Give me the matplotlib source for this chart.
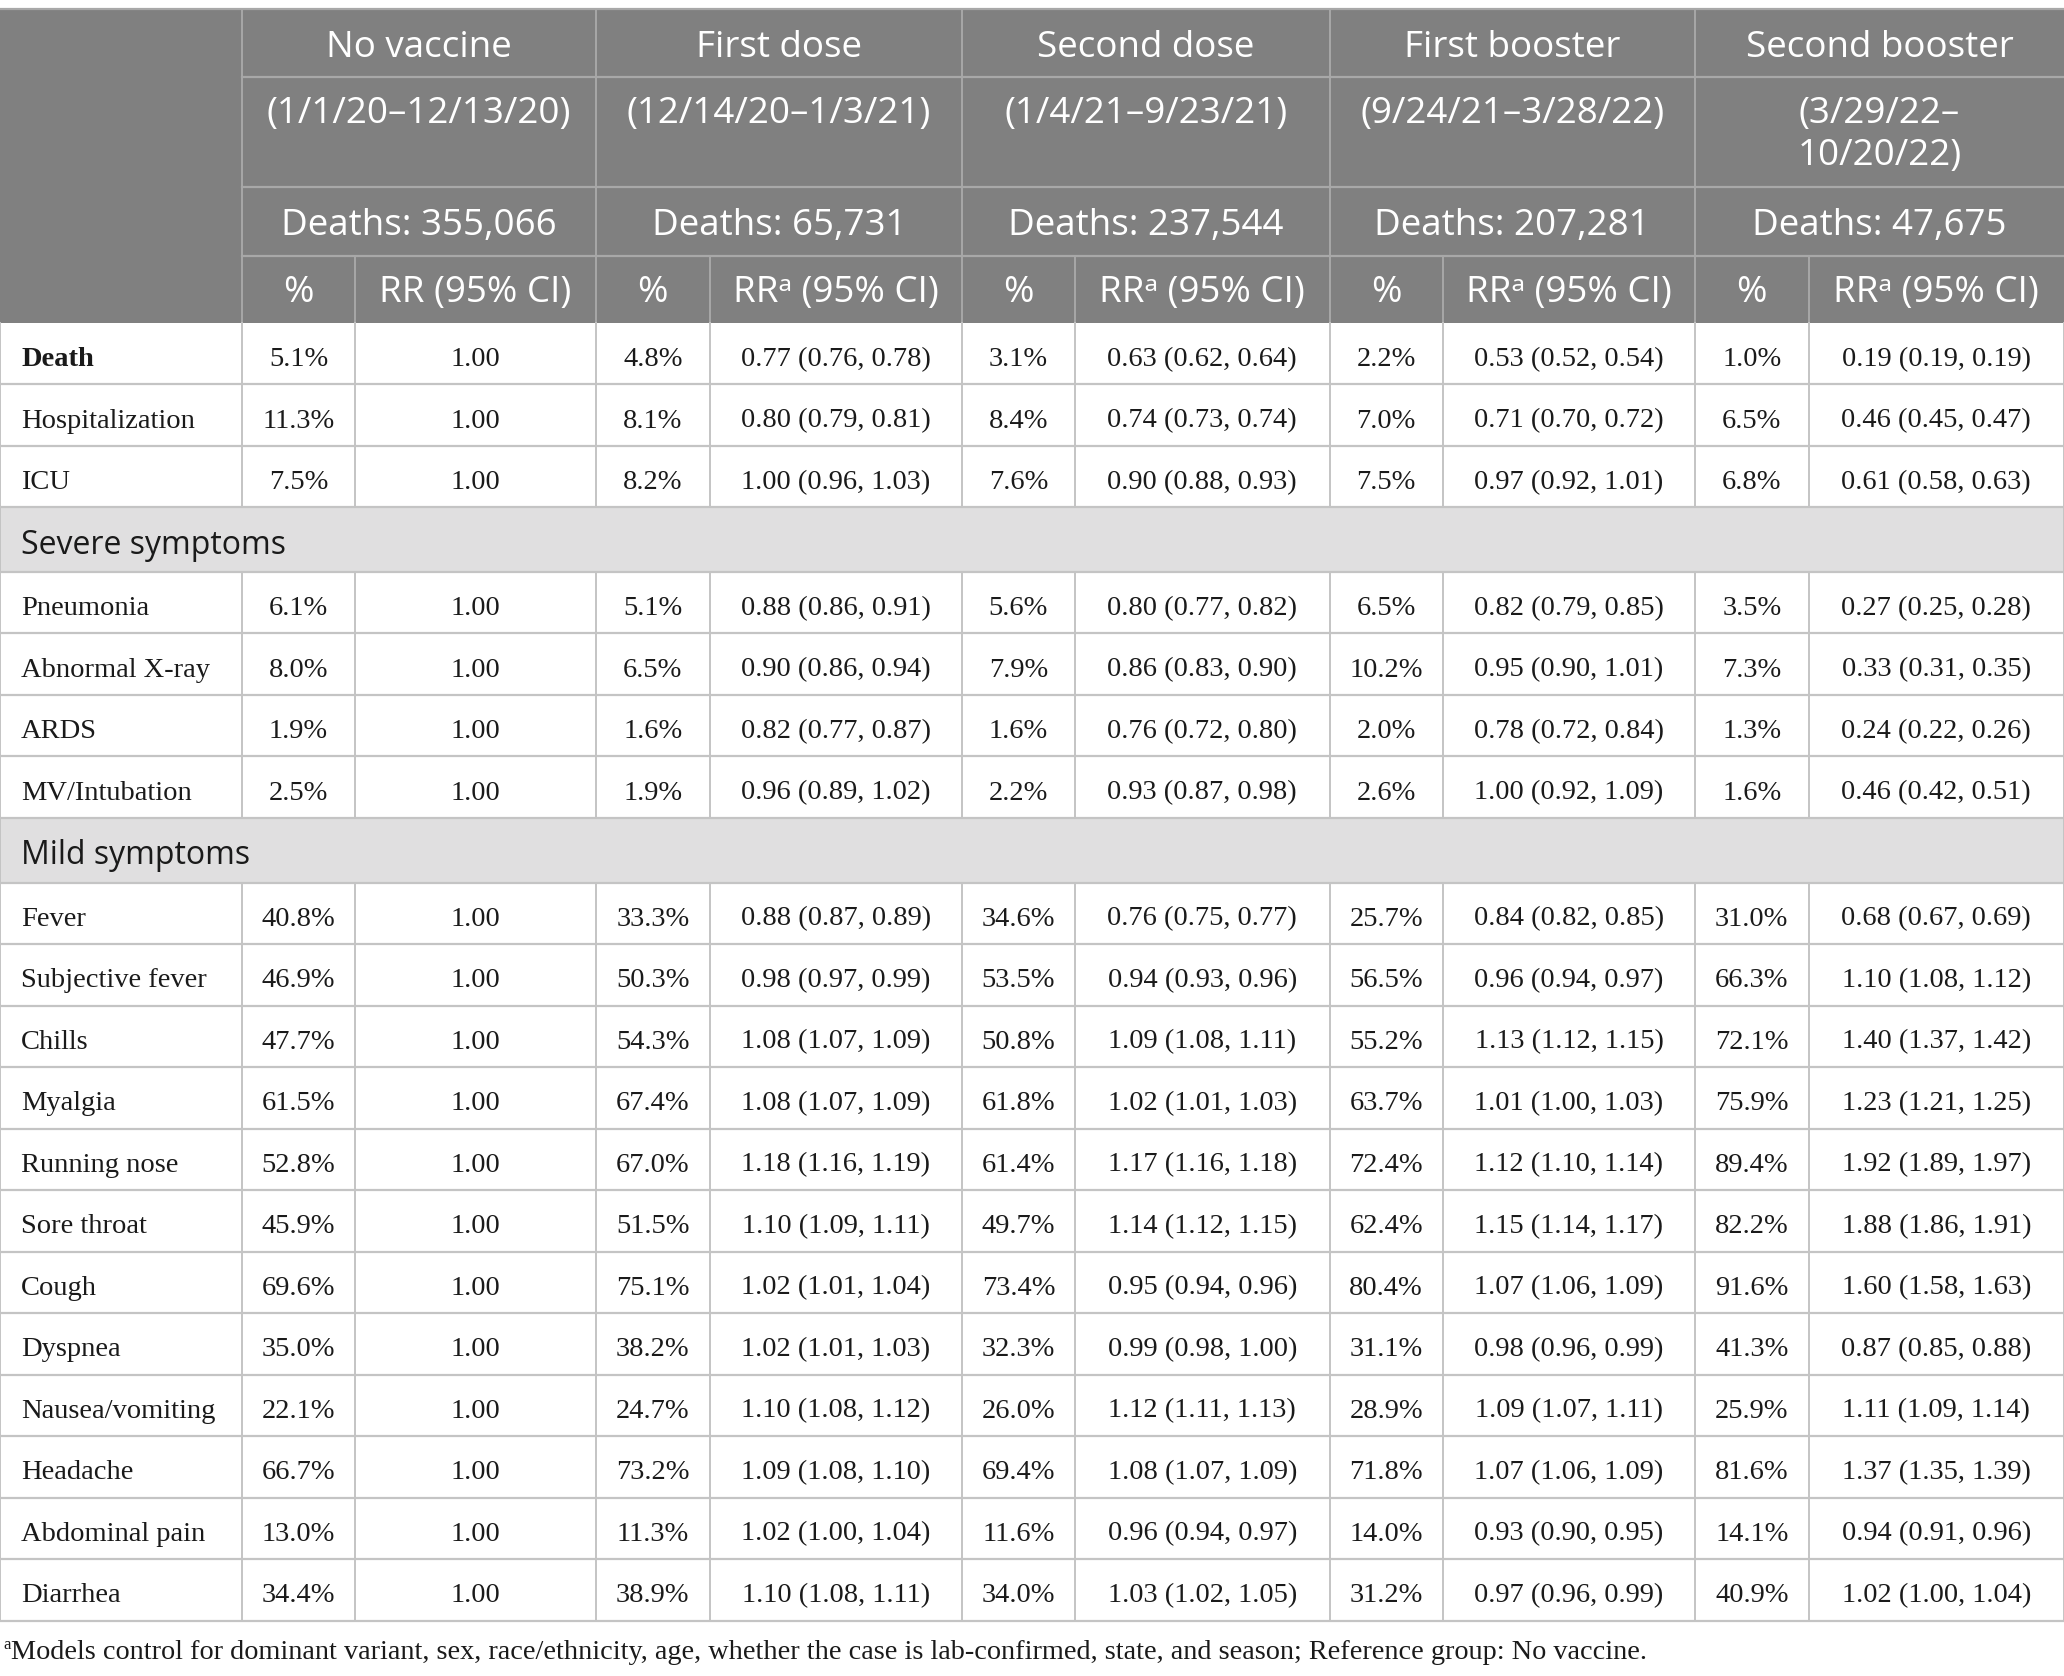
import matplotlib
matplotlib.use("Agg")
import matplotlib.pyplot as plt
from matplotlib.patches import Rectangle

# ---------------- data ----------------
periods = ["No vaccine", "First dose", "Second dose", "First booster", "Second booster"]
period_dates = [["(1/1/20\u201312/13/20)"], ["(12/14/20\u20131/3/21)"], ["(1/4/21\u20139/23/21)"],
                ["(9/24/21\u20133/28/22)"], ["(3/29/22\u2013", "10/20/22)"]]
period_deaths = ["355,066", "65,731", "237,544", "207,281", "47,675"]

group_main = ["Death", "Hospitalization", "ICU"]
group_severe = ["Pneumonia", "Abnormal X-ray", "ARDS", "MV/Intubation"]
group_mild = ["Fever", "Subjective fever", "Chills", "Myalgia", "Running nose", "Sore throat",
              "Cough", "Dyspnea", "Nausea/vomiting", "Headache", "Abdominal pain", "Diarrhea"]
section_titles = ["Severe symptoms", "Mild symptoms"]

pct_none = [5.1, 11.3, 7.5, 6.1, 8.0, 1.9, 2.5, 40.8, 46.9, 47.7, 61.5, 52.8, 45.9, 69.6, 35.0, 22.1, 66.7, 13.0, 34.4]
pct_first = [4.8, 8.1, 8.2, 5.1, 6.5, 1.6, 1.9, 33.3, 50.3, 54.3, 67.4, 67.0, 51.5, 75.1, 38.2, 24.7, 73.2, 11.3, 38.9]
pct_second = [3.1, 8.4, 7.6, 5.6, 7.9, 1.6, 2.2, 34.6, 53.5, 50.8, 61.8, 61.4, 49.7, 73.4, 32.3, 26.0, 69.4, 11.6, 34.0]
pct_boost1 = [2.2, 7.0, 7.5, 6.5, 10.2, 2.0, 2.6, 25.7, 56.5, 55.2, 63.7, 72.4, 62.4, 80.4, 31.1, 28.9, 71.8, 14.0, 31.2]
pct_boost2 = [1.0, 6.5, 6.8, 3.5, 7.3, 1.3, 1.6, 31.0, 66.3, 72.1, 75.9, 89.4, 82.2, 91.6, 41.3, 25.9, 81.6, 14.1, 40.9]

rr_first = [(0.77, 0.76, 0.78), (0.80, 0.79, 0.81), (1.00, 0.96, 1.03), (0.88, 0.86, 0.91), (0.90, 0.86, 0.94),
            (0.82, 0.77, 0.87), (0.96, 0.89, 1.02), (0.88, 0.87, 0.89), (0.98, 0.97, 0.99), (1.08, 1.07, 1.09),
            (1.08, 1.07, 1.09), (1.18, 1.16, 1.19), (1.10, 1.09, 1.11), (1.02, 1.01, 1.04), (1.02, 1.01, 1.03),
            (1.10, 1.08, 1.12), (1.09, 1.08, 1.10), (1.02, 1.00, 1.04), (1.10, 1.08, 1.11)]
rr_second = [(0.63, 0.62, 0.64), (0.74, 0.73, 0.74), (0.90, 0.88, 0.93), (0.80, 0.77, 0.82), (0.86, 0.83, 0.90),
             (0.76, 0.72, 0.80), (0.93, 0.87, 0.98), (0.76, 0.75, 0.77), (0.94, 0.93, 0.96), (1.09, 1.08, 1.11),
             (1.02, 1.01, 1.03), (1.17, 1.16, 1.18), (1.14, 1.12, 1.15), (0.95, 0.94, 0.96), (0.99, 0.98, 1.00),
             (1.12, 1.11, 1.13), (1.08, 1.07, 1.09), (0.96, 0.94, 0.97), (1.03, 1.02, 1.05)]
rr_boost1 = [(0.53, 0.52, 0.54), (0.71, 0.70, 0.72), (0.97, 0.92, 1.01), (0.82, 0.79, 0.85), (0.95, 0.90, 1.01),
             (0.78, 0.72, 0.84), (1.00, 0.92, 1.09), (0.84, 0.82, 0.85), (0.96, 0.94, 0.97), (1.13, 1.12, 1.15),
             (1.01, 1.00, 1.03), (1.12, 1.10, 1.14), (1.15, 1.14, 1.17), (1.07, 1.06, 1.09), (0.98, 0.96, 0.99),
             (1.09, 1.07, 1.11), (1.07, 1.06, 1.09), (0.93, 0.90, 0.95), (0.97, 0.96, 0.99)]
rr_boost2 = [(0.19, 0.19, 0.19), (0.46, 0.45, 0.47), (0.61, 0.58, 0.63), (0.27, 0.25, 0.28), (0.33, 0.31, 0.35),
             (0.24, 0.22, 0.26), (0.46, 0.42, 0.51), (0.68, 0.67, 0.69), (1.10, 1.08, 1.12), (1.40, 1.37, 1.42),
             (1.23, 1.21, 1.25), (1.92, 1.89, 1.97), (1.88, 1.86, 1.91), (1.60, 1.58, 1.63), (0.87, 0.85, 0.88),
             (1.11, 1.09, 1.14), (1.37, 1.35, 1.39), (0.94, 0.91, 0.96), (1.02, 1.00, 1.04)]

footnote = ("Models control for dominant variant, sex, race/ethnicity, age, whether the case is "
            "lab-confirmed, state, and season; Reference group: No vaccine.")

# ---------------- layout ----------------
W, H = 2064, 1676
fig = plt.figure(figsize=(W / 100, H / 100), dpi=100)
ax = fig.add_axes([0, 0, 1, 1])
ax.set_xlim(0, W)
ax.set_ylim(H, 0)
ax.axis("off")

SANS = ["Open Sans", "Noto Sans", "DejaVu Sans"]
SERIF = ["Liberation Serif", "DejaVu Serif"]
HDR_BG = "#808080"
HDR_LINE = "#a8a8a8"
GRID = "#c4c4c4"
SEC_BG = "#e0dfe0"
TXT = "#1a1a1a"

col_edges = [0, 242, 355, 596, 709.5, 962, 1075, 1329.5, 1443, 1695, 1808.5, 2064]
group_edges = [242, 596, 962, 1329.5, 1695, 2064]
top = 9
hdr_lines = [77, 187, 256, 323]
hdr_bottom = 323
row_h = 61.5
sec_h = 64.5

# header background
ax.add_patch(Rectangle((0, top), W, hdr_bottom - top, facecolor=HDR_BG, edgecolor="none", zorder=1))
for y in hdr_lines[:3]:
    ax.plot([242, W], [y, y], color=HDR_LINE, lw=1.6, zorder=2)
ax.plot([0, W], [top, top], color=HDR_LINE, lw=1.6, zorder=2)
for x in group_edges[:-1]:
    ax.plot([x, x], [top, hdr_bottom], color=HDR_LINE, lw=1.4, zorder=2)
for i, x in enumerate(col_edges[1:-1]):
    if x not in group_edges:
        ax.plot([x, x], [256, hdr_bottom], color=HDR_LINE, lw=1.4, zorder=2)

hfs = 26.5
for g in range(5):
    cx = (group_edges[g] + group_edges[g + 1]) / 2
    ax.text(cx, 57, periods[g], ha="center", va="baseline", color="white", fontsize=hfs, family=SANS, zorder=3)
    for k, line in enumerate(period_dates[g]):
        ax.text(cx, 123 + k * 42, line, ha="center", va="baseline", color="white", fontsize=hfs, family=SANS, zorder=3)
    ax.text(cx, 235, "Deaths: " + period_deaths[g], ha="center", va="baseline", color="white",
            fontsize=hfs, family=SANS, zorder=3)
    pc = (col_edges[1 + 2 * g] + col_edges[2 + 2 * g]) / 2
    rc = (col_edges[2 + 2 * g] + col_edges[3 + 2 * g]) / 2
    ax.text(pc, 302, "%", ha="center", va="baseline", color="white", fontsize=hfs, family=SANS, zorder=3)
    rr_lab = "RR (95% CI)" if g == 0 else "RR\u1d43 (95% CI)"
    ax.text(rc, 302, rr_lab, ha="center", va="baseline", color="white", fontsize=hfs, family=SANS, zorder=3)

# body rows
rows = []
for n in group_main:
    rows.append(("data", n))
rows.append(("section", section_titles[0]))
for n in group_severe:
    rows.append(("data", n))
rows.append(("section", section_titles[1]))
for n in group_mild:
    rows.append(("data", n))

pcts = [pct_none, pct_first, pct_second, pct_boost1, pct_boost2]
rrs = [None, rr_first, rr_second, rr_boost1, rr_boost2]

bfs = 20.5
y = hdr_bottom
di = 0
for kind, name in rows:
    h = sec_h if kind == "section" else row_h
    if kind == "section":
        ax.add_patch(Rectangle((0, y), W, h, facecolor=SEC_BG, edgecolor="none", zorder=1))
        ax.text(21, y + 46, name, ha="left", va="baseline", fontsize=23, family=SANS, color=TXT, zorder=3)
        ax.plot([0, 0], [y, y + h], color=GRID, lw=1.4, zorder=2)
        ax.plot([W, W], [y, y + h], color=GRID, lw=1.4, zorder=2)
    else:
        for x in col_edges:
            ax.plot([x, x], [y, y + h], color=GRID, lw=1.4, zorder=2)
        bl = y + 43
        ax.text(21, bl, name, ha="left", va="baseline", fontsize=bfs, family=SERIF, color=TXT,
                fontweight="bold" if name == "Death" else "normal", zorder=3)
        for g in range(5):
            pc = (col_edges[1 + 2 * g] + col_edges[2 + 2 * g]) / 2
            rc = (col_edges[2 + 2 * g] + col_edges[3 + 2 * g]) / 2
            ax.text(pc, bl, f"{pcts[g][di]:.1f}%", ha="center", va="baseline", fontsize=bfs,
                    family=SERIF, color=TXT, zorder=3)
            if rrs[g] is None:
                s = "1.00"
            else:
                p, lo, hi = rrs[g][di]
                s = f"{p:.2f} ({lo:.2f}, {hi:.2f})"
            ax.text(rc, bl, s, ha="center", va="baseline", fontsize=bfs, family=SERIF, color=TXT, zorder=3)
        di += 1
    ax.plot([0, W], [y + h, y + h], color=GRID, lw=1.6, zorder=2)
    y += h

# footnote
ax.text(3, 1649, "a", ha="left", va="baseline", fontsize=12, family=SERIF, color=TXT)
ax.text(11, 1659, footnote, ha="left", va="baseline", fontsize=20.3, family=SERIF, color=TXT)

fig.savefig("out.png", dpi=100, facecolor="white")
